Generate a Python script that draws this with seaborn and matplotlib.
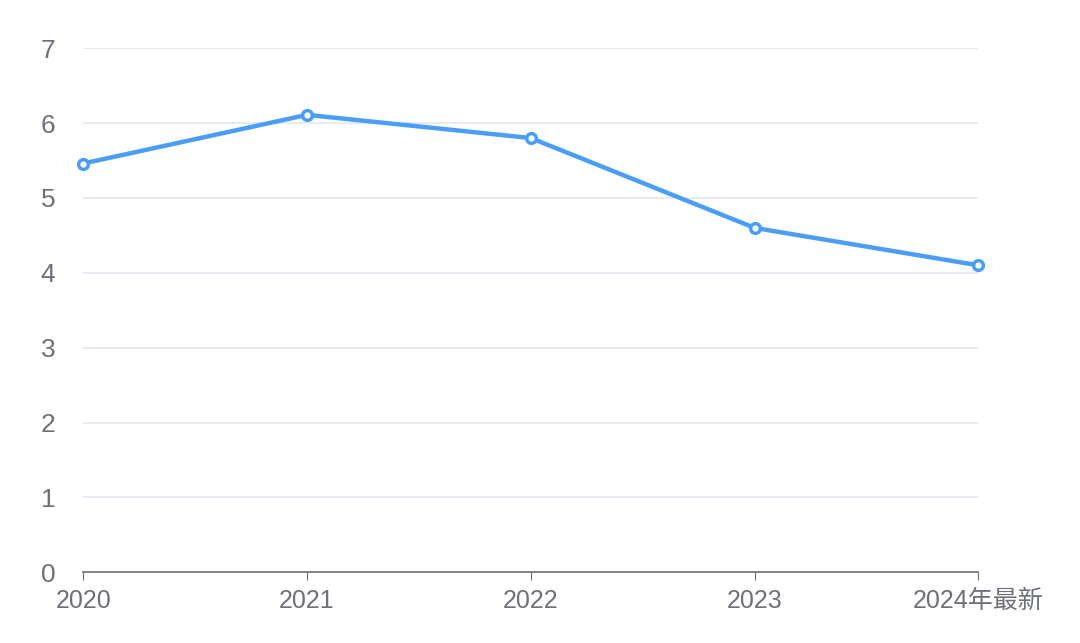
import pandas as pd
import seaborn as sns
import matplotlib.pyplot as plt

sns.set_style("white")
plt.rcParams['font.family'] = ['Liberation Sans', 'Noto Sans CJK SC', 'DejaVu Sans']

years = ['2020', '2021', '2022', '2023', '2024年最新']
values = [5.46, 6.11, 5.80, 4.60, 4.10]

df = pd.DataFrame({'year': range(len(years)), 'value': values})

fig = plt.figure(figsize=(10.8, 6.43), dpi=100)
ax = fig.add_axes([0.077, 0.110, 0.829, 0.815])

color = '#4a9ef7'
sns.lineplot(data=df, x='year', y='value', ax=ax, color=color, linewidth=3.2,
             marker='o', markersize=7, markerfacecolor='white',
             markeredgecolor=color, markeredgewidth=2.5, zorder=3, clip_on=False)

ax.set_xlim(0, len(years) - 1)
ax.set_ylim(0, 7)
ax.set_yticks(range(8))
ax.set_xticks(range(len(years)))
ax.set_xticklabels(years)
ax.grid(axis='y', color='#e0e6f1', linewidth=1.2)
ax.set_xlabel('')
ax.set_ylabel('')
for s in ['top', 'right', 'left']:
    ax.spines[s].set_visible(False)
ax.spines['bottom'].set_color('#6e7079')
ax.spines['bottom'].set_linewidth(1.2)
ax.tick_params(axis='x', length=6, color='#6e7079', colors='#6e7079', labelsize=18, pad=6, direction='out', bottom=True)
ax.tick_params(axis='y', length=0, colors='#6e7079', labelsize=19, pad=20)

fig.savefig('out.png', dpi=100)
